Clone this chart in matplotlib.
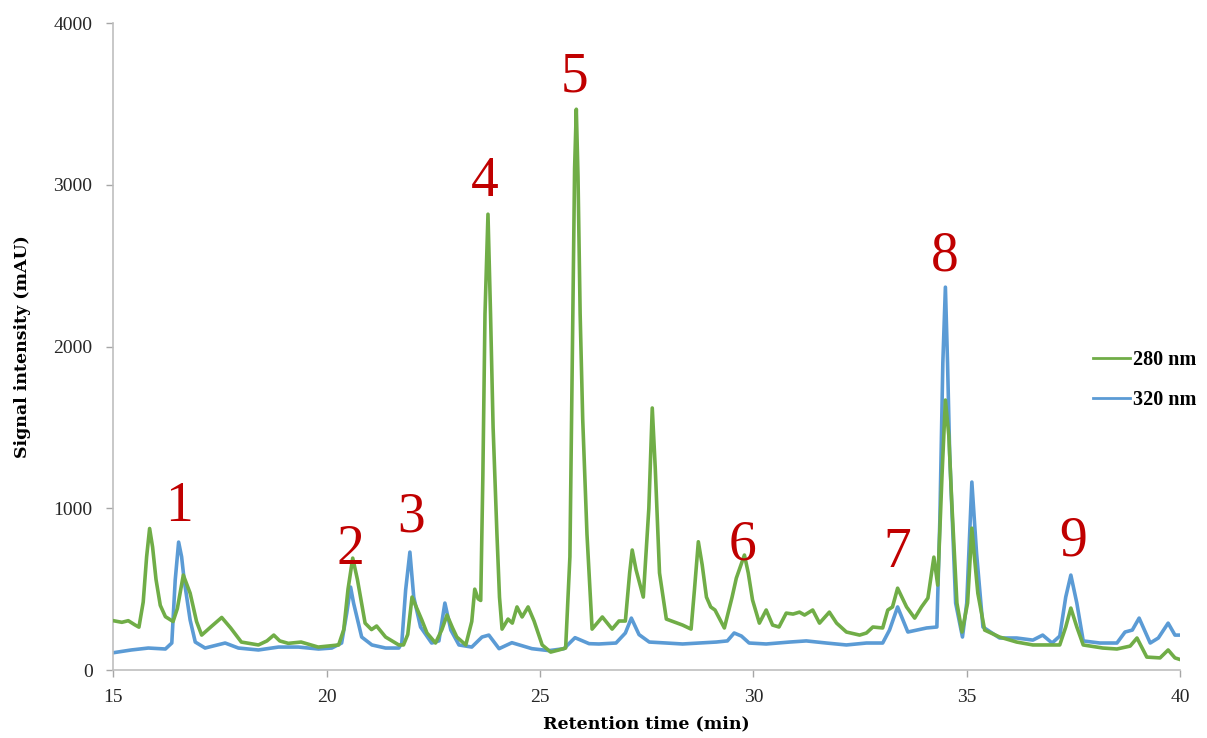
import matplotlib
matplotlib.use("Agg")
import matplotlib.pyplot as plt

# ---- data ----
t_280 = [15.0, 15.2, 15.35, 15.5, 15.6, 15.7, 15.78, 15.85, 15.92, 16.0, 16.1, 16.22, 16.4, 16.5,
         16.64, 16.8, 16.95, 17.07, 17.3, 17.54, 17.75, 18.0, 18.4, 18.6, 18.76, 18.9, 19.1, 19.4,
         19.8, 20.28, 20.4, 20.5, 20.61, 20.72, 20.9, 21.05, 21.17, 21.38, 21.69, 21.8, 21.9, 22.0,
         22.1, 22.23, 22.35, 22.55, 22.7, 22.82, 22.95, 23.05, 23.26, 23.4, 23.47, 23.55, 23.61,
         23.66, 23.71, 23.78, 23.84, 23.9, 23.99, 24.05, 24.11, 24.25, 24.35, 24.46, 24.58,
         24.72, 24.86, 25.05, 25.25, 25.44, 25.6, 25.7, 25.76, 25.81, 25.85, 25.89, 25.94, 26.0,
         26.1, 26.22, 26.46, 26.69, 26.85, 27.0, 27.1, 27.16, 27.25, 27.42, 27.55, 27.63, 27.7, 27.8,
         27.96, 28.34, 28.54, 28.62, 28.71, 28.8, 28.9, 29.0, 29.1, 29.32, 29.5, 29.6, 29.79, 29.88,
         29.98, 30.14, 30.3, 30.45, 30.6, 30.77, 30.93, 31.08, 31.2, 31.39, 31.55, 31.78, 31.95,
         32.18, 32.49, 32.65, 32.8, 33.03, 33.15, 33.26, 33.38, 33.59, 33.78, 33.94, 34.09, 34.23,
         34.32, 34.42, 34.5, 34.58, 34.65, 34.77, 34.89, 35.02, 35.12, 35.18, 35.26, 35.42, 35.77,
         36.17, 36.55, 36.95, 37.18, 37.32, 37.44, 37.58, 37.73, 38.19, 38.52, 38.83, 38.99, 39.22,
         39.53, 39.72, 39.88, 40.0]
s_280 = [305, 295, 305, 280, 265, 420, 700, 875, 760, 560, 400, 330, 300, 380,
         587, 475, 300, 216, 270, 325, 260, 173, 155, 180, 216, 180, 165, 173,
         142, 155, 250, 500, 692, 560, 290, 250, 272, 204, 155, 155, 220, 451,
         390, 309, 229, 167, 250, 340, 260, 204, 155, 300, 500, 440, 430,
         1200, 2200, 2818, 2200, 1500, 840, 450, 253, 315, 290, 390, 328,
         390, 303, 155, 111, 124, 136, 700, 2000, 3100, 3467, 3050, 2200, 1550,
         840, 253, 328, 253, 303, 303, 600, 742, 620, 451, 1000, 1620, 1250, 600,
         315, 278, 253, 500, 793, 650, 451, 390, 371, 260, 450, 568, 711, 600,
         433, 290, 371, 278, 266, 352, 346, 358, 340, 371, 290, 358, 290,
         235, 216, 229, 266, 260, 371, 390, 506, 390, 321, 390, 445, 698,
         525, 1200, 1669, 1450, 1032, 414, 235, 414, 877, 700, 475, 247, 204,
         173, 155, 155, 155, 266, 383, 266, 155, 136, 130, 148, 198, 80,
         75, 124, 75, 65]

t_320 = [15.0, 15.42, 15.82, 16.22, 16.37, 16.45, 16.53, 16.6, 16.66, 16.8, 16.92, 17.15, 17.62, 17.93,
         18.4, 18.87, 19.34, 19.81, 20.12, 20.35, 20.47, 20.56, 20.63, 20.82, 21.06, 21.38, 21.69,
         21.76, 21.85, 21.95, 22.04, 22.2, 22.46, 22.63, 22.77, 22.91, 23.1, 23.4, 23.64, 23.8,
         24.04, 24.34, 24.81, 25.21, 25.56, 25.82, 26.15, 26.38, 26.78, 27.0, 27.14, 27.32, 27.56,
         27.96, 28.34, 28.73, 29.13, 29.39, 29.55, 29.72, 29.9, 30.3, 30.85, 31.24, 31.71, 32.18,
         32.65, 33.03, 33.19, 33.38, 33.62, 33.83, 34.06, 34.3, 34.37, 34.44, 34.5, 34.55, 34.6,
         34.74, 34.9, 35.0, 35.12, 35.23, 35.38, 35.77, 36.17, 36.55, 36.78, 37.0, 37.18, 37.32,
         37.44, 37.58, 37.73, 38.12, 38.52, 38.71, 38.88, 39.04, 39.3, 39.49, 39.72, 39.88, 40.0]
s_320 = [107, 124, 136, 130, 167, 556, 791, 700, 556, 309, 173, 136, 167, 136,
         124, 142, 142, 130, 136, 167, 352, 513, 414, 204, 155, 136, 136,
         167, 494, 729, 451, 266, 167, 180, 414, 247, 155, 142, 204, 216,
         132, 169, 132, 120, 132, 200, 163, 161, 167, 229, 321, 219, 173,
         167, 161, 167, 173, 180, 229, 210, 167, 161, 173, 180, 167, 155,
         167, 167, 247, 390, 235, 247, 260, 266, 927, 1900, 2367, 1900, 1339,
         414, 204, 414, 1162, 723, 266, 198, 198, 185, 216, 167, 210, 451,
         587, 414, 180, 167, 167, 235, 247, 321, 167, 198, 290, 216, 216]

peak_labels = ["1", "2", "3", "4", "5", "6", "7", "8", "9"]
peak_x = [16.55, 20.56, 21.97, 23.7, 25.8, 29.74, 33.38, 34.48, 37.49]
peak_y = [1007, 742, 940, 3016, 3665, 772, 723, 2558, 797]

x_ticks = [15, 20, 25, 30, 35, 40]
y_ticks = [0, 1000, 2000, 3000, 4000]

# ---- plot ----
serif = ["Liberation Serif", "DejaVu Serif"]
plt.rcParams["font.family"] = serif

fig = plt.figure(figsize=(12.07, 7.38), dpi=100)
ax = fig.add_axes([0.0939, 0.0921, 0.8838, 0.8767])

green = "#70AD47"
blue = "#5B9BD5"
ax.plot(t_320, s_320, color=blue, lw=2.6, label="320 nm", zorder=2, solid_joinstyle="round")
ax.plot(t_280, s_280, color=green, lw=2.6, label="280 nm", zorder=3, solid_joinstyle="round")

for lab, px, py in zip(peak_labels, peak_x, peak_y):
    ax.text(px, py, lab, color="#C00000", fontsize=40, ha="center", va="center",
            family=serif)

ax.set_xlim(15, 40)
ax.set_ylim(0, 4000)
ax.set_xticks(x_ticks)
ax.set_yticks(y_ticks)
ax.tick_params(axis="both", colors="#A6A6A6", labelcolor="#262626", labelsize=14,
               length=5, width=1, direction="out")
ax.tick_params(axis="y", pad=10)
ax.tick_params(axis="x", pad=9)
for side in ["top", "right"]:
    ax.spines[side].set_visible(False)
for side in ["left", "bottom"]:
    ax.spines[side].set_color("#BFBFBF")
    ax.spines[side].set_linewidth(1.2)

lab_font = {"family": ["DejaVu Serif"], "weight": "bold", "size": 12.5}
ax.set_xlabel("Retention time (min)", fontdict=lab_font)
ax.set_ylabel("Signal intensity (mAU)", fontdict=lab_font)
ax.xaxis.label.set_va("center")
ax.yaxis.label.set_va("center")
ax.xaxis.set_label_coords(0.5, -0.0835)
ax.yaxis.set_label_coords(-0.0856, 0.5)

handles, labels = ax.get_legend_handles_labels()
leg = fig.legend(handles[::-1], labels[::-1], loc="center left",
                 bbox_to_anchor=(1093 / 1207, 1 - 380 / 738), frameon=False,
                 prop={"family": serif, "weight": "bold", "size": 14.5},
                 handlelength=1.85, handletextpad=0.15, labelspacing=1.0,
                 borderpad=0, borderaxespad=0)
for line in leg.get_lines():
    line.set_linewidth(2.0)

fig.savefig("out.png", dpi=100)
